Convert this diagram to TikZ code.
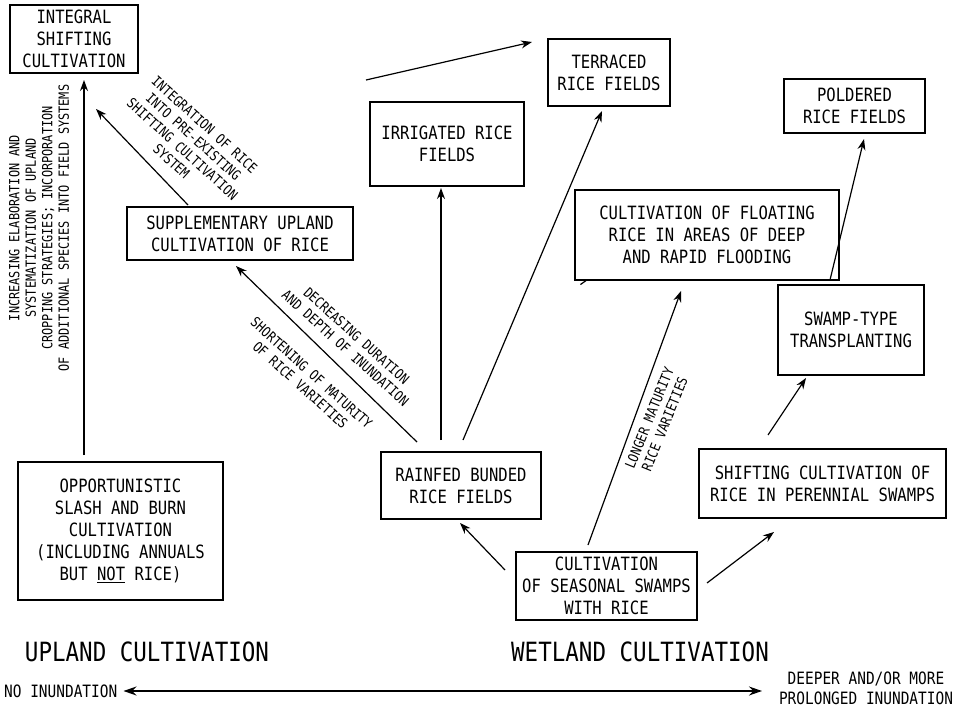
\documentclass[tikz,border=0pt]{standalone}
\usepackage{fontspec}
\newfontfamily\mono[FakeStretch=0.85]{DejaVu Sans Mono}
\usetikzlibrary{arrows.meta}
\begin{document}
\begin{tikzpicture}[x=1pt,y=-1pt,
  box/.style={draw,line width=1.1pt,inner sep=0pt,align=center,
    font=\mono\fontsize{18.3}{22}\selectfont},
  arr/.style={line width=1.2pt,-{Stealth[length=11pt,width=8pt]}},
  lbl/.style={align=center,inner sep=0pt,font=\mono\fontsize{14}{16.5}\selectfont},
  side/.style={align=center,inner sep=0pt,font=\mono\fontsize{17}{20}\selectfont},
  big/.style={inner sep=0pt,font=\mono\fontsize{26.5}{30}\selectfont}]
\useasboundingbox (0,0) rectangle (967,709);
% boxes
\node[box,minimum width=128pt,minimum height=68pt] (int) at (74,39) {INTEGRAL\\SHIFTING\\CULTIVATION};
\node[box,minimum width=226pt,minimum height=53pt] (sup) at (240,233.5) {SUPPLEMENTARY UPLAND\\CULTIVATION OF RICE};
\node[box,minimum width=205pt,minimum height=138pt] (opp) at (120.5,531) {OPPORTUNISTIC\\SLASH AND BURN\\CULTIVATION\\(INCLUDING ANNUALS\\BUT \underline{NOT} RICE)};
\node[box,minimum width=154pt,minimum height=84pt] (irr) at (447,144) {IRRIGATED RICE\\FIELDS};
\node[box,minimum width=122pt,minimum height=67pt] (ter) at (609,72.5) {TERRACED\\RICE FIELDS};
\node[box,minimum width=141pt,minimum height=54pt] (pol) at (854.5,106) {POLDERED\\RICE FIELDS};
\node[box,minimum width=264pt,minimum height=90pt] (flo) at (707,235) {CULTIVATION OF FLOATING\\RICE IN AREAS OF DEEP\\AND RAPID FLOODING};
\node[box,minimum width=146pt,minimum height=90pt] (swt) at (851,330) {SWAMP-TYPE\\TRANSPLANTING};
\node[box,minimum width=160pt,minimum height=67pt] (rbf) at (461,485.5) {RAINFED BUNDED\\RICE FIELDS};
\node[box,minimum width=247pt,minimum height=69pt] (spe) at (822.5,483.5) {SHIFTING CULTIVATION OF\\RICE IN PERENNIAL SWAMPS};
\node[box,minimum width=181pt,minimum height=68pt] (css) at (606.5,586) {CULTIVATION\\OF SEASONAL SWAMPS\\WITH RICE};
% arrow end points
\coordinate (a1s) at (84,455);  \coordinate (a1e) at (84,80);
\coordinate (a2s) at (188,205); \coordinate (a2e) at (96,109);
\coordinate (a3s) at (417,442); \coordinate (a3e) at (236,266);
\coordinate (a4s) at (441,440); \coordinate (a4e) at (441,188);
\coordinate (a5s) at (463,440); \coordinate (a5e) at (602,111);
\coordinate (a6s) at (366,80);  \coordinate (a6e) at (532,42);
\coordinate (a7s) at (505,570); \coordinate (a7e) at (460,523);
\coordinate (a8s) at (588,545); \coordinate (a8e) at (681,291);
\coordinate (a9s) at (707,583); \coordinate (a9e) at (774,532);
\coordinate (a10s) at (768,435); \coordinate (a10e) at (806,378);
\coordinate (a11s) at (830,280); \coordinate (a11e) at (864,139);
\draw[arr] (a1s) -- (a1e);
\draw[arr] (a2s) -- (a2e);
\draw[arr] (a3s) -- (a3e);
\draw[arr] (a4s) -- (a4e);
\draw[arr] (a5s) -- (a5e);
\draw[arr] (a6s) -- (a6e);
\draw[arr] (a7s) -- (a7e);
\draw[arr] (a8s) -- (a8e);
\draw[arr] (a9s) -- (a9e);
\draw[arr] (a10s) -- (a10e);
\draw[arr] (a11s) -- (a11e);
% small tick on floating box
\draw[line width=1.2pt] ([xshift=6pt,yshift=-4pt]flo.south west) -- ++(7,-5);
% labels
\node[lbl,rotate=90] (l1) at (39,228) {INCREASING ELABORATION AND\\SYSTEMATIZATION OF UPLAND\\CROPPING STRATEGIES; INCORPORATION\\OF ADDITIONAL SPECIES INTO FIELD SYSTEMS};
\node[lbl,rotate=-42] (l2) at (188,143) {INTEGRATION OF RICE\\INTO PRE-EXISTING\\SHIFTING CULTIVATION\\SYSTEM};
\node[lbl,rotate=-42] (l3) at (351,342) {DECREASING DURATION\\AND DEPTH OF INUNDATION};
\node[lbl,rotate=-42] (l4) at (306,379) {SHORTENING OF MATURITY\\OF RICE VARIETIES};
\node[lbl,rotate=68] (l5) at (657,421) {LONGER MATURITY\\RICE VARIETIES};
% bottom
\node[big] (up) at (147,652) {UPLAND CULTIVATION};
\node[big] (wet) at (640,652) {WETLAND CULTIVATION};
\node[side,anchor=west] (noin) at (4,691) {NO INUNDATION};
\node[side] (deep) at (866,688) {DEEPER AND/OR MORE\\PROLONGED INUNDATION};
\draw[line width=1.2pt,{Stealth[length=13pt,width=9pt]}-{Stealth[length=13pt,width=9pt]}] (noin.east)++(6,0) coordinate (b1) -- (762,691) coordinate (b2);
\end{tikzpicture}
\end{document}
